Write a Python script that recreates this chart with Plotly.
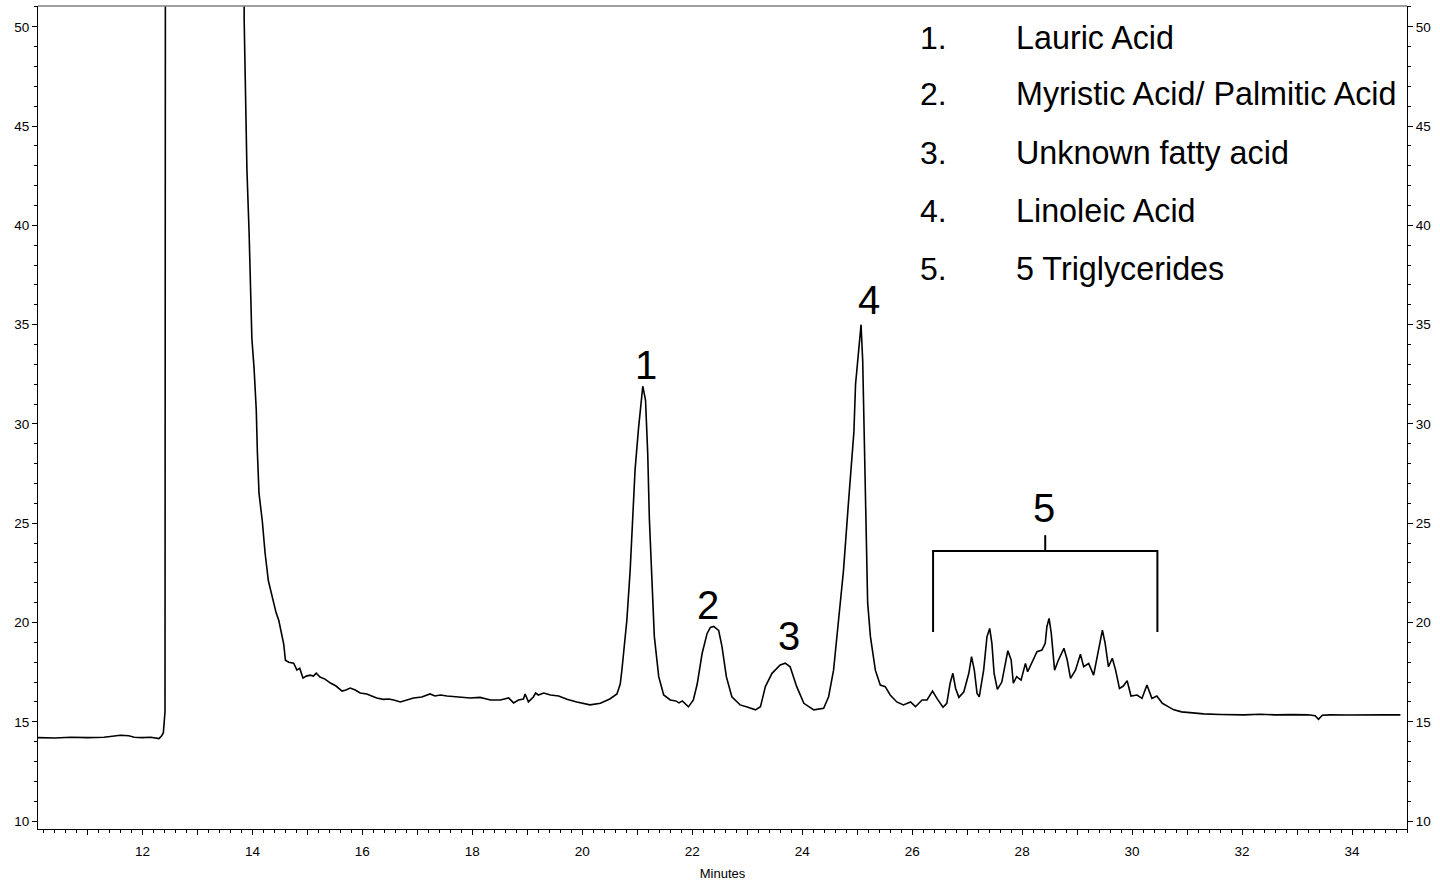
import plotly.graph_objects as go

# ---- data ----
minutes = [
    10.10, 10.40, 10.70, 11.00, 11.30, 11.50, 11.60, 11.75, 11.85, 12.00, 12.15, 12.30, 12.35, 12.38, 12.41, 12.43,
    13.83, 13.85, 13.88, 13.90, 13.94, 13.96, 13.99, 14.03, 14.07, 14.09, 14.12, 14.18, 14.23, 14.29, 14.35,
    14.43, 14.48, 14.53, 14.57, 14.60, 14.66, 14.75, 14.81, 14.86, 14.92, 14.98, 15.05, 15.11, 15.16, 15.23,
    15.32, 15.42, 15.52, 15.63, 15.70, 15.78, 15.87, 15.96, 16.08, 16.17, 16.26, 16.38, 16.48, 16.57, 16.69,
    16.81, 16.93, 17.08, 17.23, 17.32, 17.42, 17.54, 17.66, 17.78, 17.96, 18.14, 18.33, 18.51, 18.66, 18.75,
    18.84, 18.93, 18.96, 19.02, 19.11, 19.15, 19.20, 19.30, 19.42, 19.57, 19.72, 19.90, 20.14, 20.33, 20.50,
    20.63, 20.69, 20.72, 20.77, 20.81, 20.87, 20.92, 20.96, 21.02, 21.07, 21.10, 21.15, 21.19, 21.22, 21.27,
    21.31, 21.39, 21.48, 21.60, 21.70, 21.76, 21.82, 21.93, 22.02, 22.09, 22.18, 22.27, 22.33, 22.39, 22.48,
    22.54, 22.62, 22.72, 22.87, 23.00, 23.15, 23.24, 23.33, 23.45, 23.60, 23.69, 23.78, 23.90, 24.03, 24.21,
    24.39, 24.48, 24.57, 24.66, 24.75, 24.84, 24.90, 24.94, 24.97, 25.02, 25.07, 25.10, 25.13, 25.16, 25.19,
    25.24, 25.33, 25.42, 25.51, 25.60, 25.72, 25.84, 25.97, 26.06, 26.18, 26.27, 26.37, 26.45, 26.56, 26.63,
    26.69, 26.74, 26.79, 26.85, 26.94, 27.03, 27.08, 27.13, 27.18, 27.22, 27.30, 27.36, 27.41, 27.45, 27.49,
    27.55, 27.63, 27.74, 27.80, 27.84, 27.90, 27.98, 28.06, 28.10, 28.18, 28.27, 28.36, 28.42, 28.45, 28.49,
    28.53, 28.59, 28.66, 28.76, 28.82, 28.88, 28.97, 29.06, 29.12, 29.21, 29.30, 29.39, 29.46, 29.51, 29.57,
    29.64, 29.70, 29.77, 29.84, 29.91, 29.98, 30.09, 30.18, 30.27, 30.36, 30.45, 30.55, 30.64, 30.76, 30.90,
    31.06, 31.30, 31.60, 32.03, 32.33, 32.60, 32.90, 33.20, 33.33, 33.39, 33.46, 33.60, 33.90, 34.30, 34.60,
    34.88,
]
signal_mv = [
    14.20, 14.18, 14.22, 14.20, 14.22, 14.30, 14.32, 14.30, 14.22, 14.20, 14.22, 14.15, 14.30, 14.45, 15.50, 120.0,
    120.0, 50.35, 45.00, 42.80, 39.60, 37.40, 34.30, 32.80, 30.70, 28.60, 26.50, 25.10, 23.50, 22.10, 21.40,
    20.50, 20.10, 19.40, 18.90, 18.10, 18.00, 17.95, 17.60, 17.70, 17.20, 17.30, 17.35, 17.30, 17.45, 17.25,
    17.15, 16.95, 16.80, 16.55, 16.60, 16.70, 16.60, 16.45, 16.40, 16.30, 16.20, 16.13, 16.15, 16.10, 16.00,
    16.10, 16.20, 16.25, 16.40, 16.30, 16.35, 16.30, 16.28, 16.23, 16.20, 16.23, 16.10, 16.10, 16.20, 15.95,
    16.10, 16.15, 16.40, 16.00, 16.25, 16.45, 16.35, 16.45, 16.35, 16.30, 16.13, 16.00, 15.85, 15.93, 16.15,
    16.40, 16.90, 17.60, 18.90, 20.10, 22.60, 25.20, 27.70, 29.70, 31.20, 31.90, 31.20, 28.50, 25.20, 21.80,
    19.30, 17.27, 16.35, 16.10, 16.05, 15.95, 16.05, 15.75, 16.10, 16.90, 18.45, 19.45, 19.75, 19.80, 19.60,
    18.80, 17.27, 16.26, 15.85, 15.75, 15.60, 15.76, 16.77, 17.44, 17.86, 17.95, 17.77, 16.77, 15.93, 15.60,
    15.68, 16.26, 17.60, 20.10, 22.60, 26.00, 28.50, 29.60, 32.00, 33.50, 35.00, 33.20, 29.00, 24.30, 21.00,
    19.30, 17.60, 16.85, 16.77, 16.35, 16.00, 15.85, 16.00, 15.76, 16.10, 16.10, 16.55, 16.18, 15.73, 15.93,
    16.94, 17.44, 16.68, 16.23, 16.51, 17.44, 18.28, 17.60, 16.43, 16.26, 17.60, 19.28, 19.70, 18.95, 17.44,
    16.63, 17.00, 18.58, 18.11, 16.94, 17.27, 17.10, 17.94, 17.52, 18.03, 18.53, 18.61, 18.95, 19.79, 20.21,
    19.45, 17.60, 18.11, 18.70, 18.11, 17.19, 17.60, 18.40, 17.77, 17.94, 17.35, 18.53, 19.62, 18.95, 17.77,
    18.20, 17.60, 16.68, 16.80, 17.07, 16.30, 16.35, 16.18, 16.85, 16.18, 16.30, 15.93, 15.79, 15.60, 15.50,
    15.46, 15.40, 15.37, 15.35, 15.38, 15.35, 15.36, 15.35, 15.30, 15.12, 15.33, 15.35, 15.34, 15.36, 15.35,
    15.35,
]

x_tick_vals = list(range(11, 35))
x_tick_text = [str(v) if v % 2 == 0 else "" for v in x_tick_vals]

peak_labels = ["1", "2", "3", "4", "5"]
peak_label_x = [21.15, 22.29, 23.76, 25.21, 28.40]
peak_label_y = [32.97, 20.88, 19.32, 36.25, 25.77]

legend_numbers = ["1.", "2.", "3.", "4.", "5."]
legend_names = ["Lauric Acid", "Myristic Acid/ Palmitic Acid", "Unknown fatty acid",
                "Linoleic Acid", "5 Triglycerides"]
legend_y = [49.45, 46.60, 43.66, 40.75, 37.80]

bracket_x = [26.38, 26.38, 30.46, 30.46]
bracket_y = [19.52, 23.60, 23.60, 19.52]
bracket_mid_x = [28.42, 28.42]
bracket_mid_y = [23.60, 24.40]

X_RANGE = [10.1, 35.0]
Y_RANGE = [9.6, 51.05]
FONT = "Arial, Liberation Sans, sans-serif"

fig = go.Figure()
fig.add_trace(go.Scatter(x=minutes, y=signal_mv, mode="lines",
                         line=dict(color="black", width=1.6), showlegend=False,
                         hoverinfo="skip"))
fig.add_trace(go.Scatter(x=bracket_x, y=bracket_y, mode="lines",
                         line=dict(color="black", width=2), showlegend=False,
                         hoverinfo="skip"))
fig.add_trace(go.Scatter(x=bracket_mid_x, y=bracket_mid_y, mode="lines",
                         line=dict(color="black", width=2), showlegend=False,
                         hoverinfo="skip"))
# invisible helper so the right-hand axis is rendered
fig.add_trace(go.Scatter(x=[X_RANGE[0]], y=[Y_RANGE[0] - 5], mode="markers",
                         marker=dict(size=1, color="rgba(0,0,0,0)"), yaxis="y2",
                         showlegend=False, hoverinfo="skip"))

for t, x, y in zip(peak_labels, peak_label_x, peak_label_y):
    fig.add_annotation(x=x, y=y, text=t, showarrow=False,
                       font=dict(family=FONT, size=40, color="black"),
                       xanchor="center", yanchor="middle")

for n, name, y in zip(legend_numbers, legend_names, legend_y):
    fig.add_annotation(x=26.10, y=y, text=n, showarrow=False, xanchor="left", yanchor="middle",
                       font=dict(family=FONT, size=32, color="black"))
    fig.add_annotation(x=27.86, y=y, text=name, showarrow=False, xanchor="left", yanchor="middle",
                       font=dict(family=FONT, size=32.3, color="black"))

axis_font = dict(family=FONT, size=13.5, color="black")
minor_y = dict(tickmode="linear", tick0=0, dtick=1, ticks="outside", ticklen=3,
               tickcolor="black", tickwidth=1, showgrid=False)
fig.update_layout(
    width=1440, height=881,
    margin=dict(l=38, r=33, t=6, b=52, autoexpand=False),
    paper_bgcolor="white", plot_bgcolor="white",
    font=dict(family=FONT, color="black"),
    showlegend=False,
    xaxis=dict(
        range=X_RANGE, tickmode="array", tickvals=x_tick_vals, ticktext=x_tick_text,
        ticks="outside", ticklen=5, tickwidth=1, tickcolor="black",
        showline=True, linecolor="black", linewidth=1, showgrid=False, zeroline=False,
        tickfont=axis_font, ticklabelstandoff=5, automargin=False,
        minor=dict(tickmode="linear", tick0=0, dtick=0.2, ticks="outside", ticklen=3,
                   tickcolor="black", tickwidth=1, showgrid=False),
        title=dict(text="Minutes", font=dict(family=FONT, size=13, color="black"), standoff=12),
    ),
    yaxis=dict(
        range=Y_RANGE, tickmode="linear", tick0=0, dtick=5, automargin=False,
        ticks="outside", ticklen=5, tickwidth=1, tickcolor="black",
        showline=True, linecolor="black", linewidth=1, showgrid=False, zeroline=False,
        tickfont=axis_font, minor=minor_y,
    ),
    yaxis2=dict(
        range=Y_RANGE, overlaying="y", side="right", tickmode="linear", tick0=0, dtick=5,
        automargin=False,
        ticks="outside", ticklen=5, tickwidth=1, tickcolor="black",
        showline=True, linecolor="black", linewidth=1, showgrid=False, zeroline=False,
        tickfont=axis_font, minor=minor_y,
    ),
    shapes=[dict(type="line", xref="paper", yref="paper", x0=0, x1=1, y0=1, y1=1,
                 line=dict(color="#808080", width=1.5))],
)

fig.write_html("out.html", config={"displayModeBar": False},
               post_script="document.body.style.margin='0';document.body.style.overflow='hidden';")
